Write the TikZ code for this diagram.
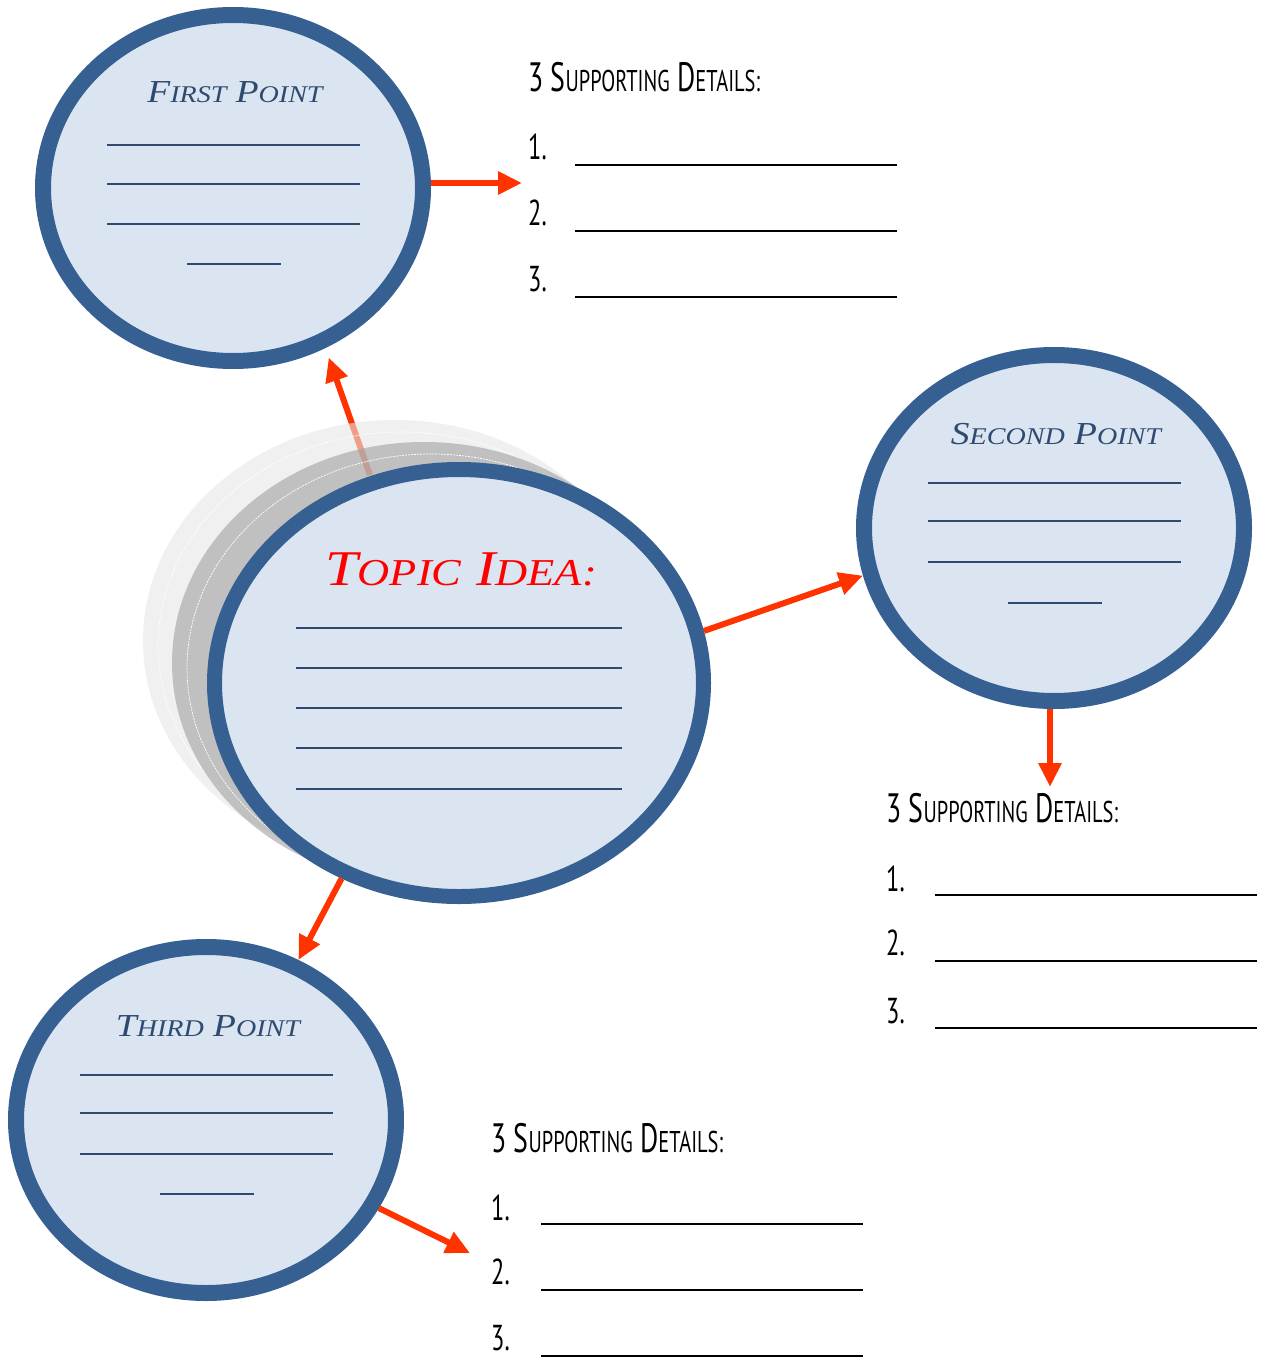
\documentclass[tikz,border=0pt]{standalone}
\usepackage{fontspec}
\setmainfont{Liberation Serif}
\newfontfamily\titlefont[FakeStretch=1.17]{Liberation Serif}
\newfontfamily\detailfont[FakeStretch=0.68]{PT Sans}
\usetikzlibrary{shapes.geometric,arrows.meta}

\definecolor{ringblue}{HTML}{366092}
\definecolor{fillblue}{HTML}{DBE5F1}
\definecolor{inkblue}{HTML}{2E4A6E}
\definecolor{arrowred}{HTML}{FF3300}
\definecolor{glowlight}{HTML}{E6E6E6}
\definecolor{glowdark}{HTML}{A0A0A0}

% fake small caps: big first letter, smaller rest
\newcommand{\scw}[2]{{\fontsize{\bigsz}{\bigsz}\selectfont #1}{\fontsize{\smallsz}{\smallsz}\selectfont #2}}

\tikzset{
  point/.style={ellipse,draw=ringblue,fill=fillblue,line width=16pt,
    minimum width=380pt,minimum height=346pt},
  pointtitle/.style={anchor=base,text=inkblue,
    font=\titlefont\itshape\def\bigsz{32}\def\smallsz{24}\fontsize{32}{32}\selectfont},
  heading/.style={anchor=base west,inner sep=0pt,
    font=\detailfont\def\bigsz{41}\def\smallsz{30}\fontsize{41}{41}\selectfont},
  number/.style={anchor=base west,inner sep=0pt,font=\detailfont\fontsize{36}{36}\selectfont},
  blank/.style={draw=inkblue,line width=2.2pt},
  detailline/.style={draw=black,line width=2.2pt},
  pointer/.style={draw=arrowred,line width=6pt,-{Triangle[length=24pt,width=22pt]}}
}

\begin{document}
\begin{tikzpicture}[x=1pt,y=-1pt]
  \useasboundingbox (0,0) rectangle (1261,1359);
  \fill[white] (0,0) rectangle (1261,1359);

  \node[point] (first)  at (233,188)  {};
  \node[point] (second) at (1054,528) {};
  \node[point] (third)  at (206,1120) {};

  % topic sits on two soft shadows
  \coordinate (topicc) at (459,683);
  \draw[pointer,shorten >=10pt] (topicc) ++(-89,-208) coordinate (topicout) -- (first.-60);

  \fill[glowlight,opacity=0.6] (395,641) ellipse [x radius=252pt, y radius=221pt];
  \draw[white,line width=0.7pt,dash pattern=on 2pt off 1pt] (402,646) ellipse [x radius=244pt, y radius=214pt];
  \fill[glowdark,opacity=0.6] (424,663) ellipse [x radius=252pt, y radius=221pt];
  \draw[white,line width=0.7pt,dash pattern=on 2pt off 1pt] (431,668) ellipse [x radius=244pt, y radius=214pt];

  \node[point,line width=15pt,minimum width=489pt,minimum height=427pt] (topic) at (topicc) {};

  % titles
  \node[pointtitle] (firstt)  at (235,103)  {\scw{F}{IRST} \scw{P}{OINT}};
  \node[pointtitle] (secondt) at (1056,444) {\scw{S}{ECOND} \scw{P}{OINT}};
  \node[pointtitle] (thirdt)  at (208,1036) {\scw{T}{HIRD} \scw{P}{OINT}};
  \node[anchor=base,text=red,font=\titlefont\itshape\def\bigsz{50}\def\smallsz{38}\fontsize{50}{50}\selectfont]
    (topict) at (461,585) {\scw{T}{OPIC} \scw{I}{DEA:}};

  % blanks inside the circles
  \draw[blank] (107,145) -- (360,145) (107,184) -- (360,184) (107,224) -- (360,224) (187,264) -- (281,264);
  \draw[blank] (928,483) -- (1181,483) (928,521) -- (1181,521) (928,562) -- (1181,562) (1008,603) -- (1102,603);
  \draw[blank] (80,1075) -- (333,1075) (80,1113) -- (333,1113) (80,1154) -- (333,1154) (160,1194) -- (254,1194);
  \draw[blank] (296,628) -- (622,628) (296,668) -- (622,668) (296,708) -- (622,708)
    (296,748) -- (622,748) (296,789) -- (622,789);

  % supporting details
  \node[heading] (det1) at (528,92)   {\scw{3 S}{UPPORTING} \scw{D}{ETAILS:}};
  \node[heading] (det2) at (886,822)  {\scw{3 S}{UPPORTING} \scw{D}{ETAILS:}};
  \node[heading] (det3) at (491,1152) {\scw{3 S}{UPPORTING} \scw{D}{ETAILS:}};

  \node[number] (n11) at (528,160)  {1.};
  \node[number] (n12) at (528,225)  {2.};
  \node[number] (n13) at (528,291)  {3.};
  \node[number] (n21) at (886,891)  {1.};
  \node[number] (n22) at (886,955)  {2.};
  \node[number] (n23) at (886,1023) {3.};
  \node[number] (n31) at (491,1220) {1.};
  \node[number] (n32) at (491,1284) {2.};
  \node[number] (n33) at (491,1350) {3.};

  \draw[detailline] (575,165) -- (897,165) (575,231) -- (897,231) (575,297) -- (897,297);
  \draw[detailline] (935,895) -- (1257,895) (935,961) -- (1257,961) (935,1028) -- (1257,1028);
  \draw[detailline] (541,1224) -- (863,1224) (541,1290) -- (863,1290) (541,1356) -- (863,1356);

  % arrows
  \coordinate (tipA) at (522,183);
  \coordinate (tipB) at (1050,787);
  \coordinate (tipC) at (470,1253);
  \draw[pointer] (first.east |- tipA) -- (tipA);
  \draw[pointer] (topic.12) -- (second.194);
  \draw[pointer] (tipB |- second.south) -- (tipB);
  \draw[pointer] (topic.239) -- (third.60);
  \draw[pointer] (third.-27) -- (tipC);

\end{tikzpicture}
\end{document}
